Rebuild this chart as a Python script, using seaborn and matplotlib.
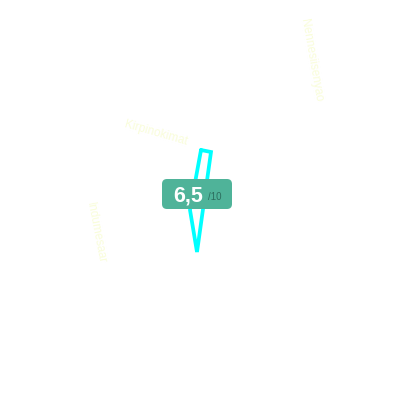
"""
plot.py
-------
Single-score radar shape with a score badge, on a blank white ground.
"""

import matplotlib

matplotlib.use("Agg")

import matplotlib.pyplot as plt
import pandas as pd
import seaborn as sns
from matplotlib.patches import FancyBboxPatch

# outline of the shape, closed (pixel scale)
shape_x = [201, 211, 197, 190, 201]
shape_y = [150, 152, 252, 210, 150]

axis_labels = ["Nennesiisenyao", "Kirpinokimat", "Indumesaar"]
label_x = [311, 156, 96]
label_y = [60, 133, 233]
label_rot = [-80, -16, -79]

score_text = "6,5"
score_max = "/10"

sns.set_theme(style="white")
plt.rcParams["font.family"] = ["Liberation Sans", "DejaVu Sans"]

fig, ax = plt.subplots(figsize=(4, 4), dpi=100)
ax.set_position([0, 0, 1, 1])
ax.set_xlim(0, 400)
ax.set_ylim(400, 0)
ax.axis("off")

shape = pd.DataFrame({"x": shape_x, "y": shape_y})
sns.lineplot(
    data=shape, x="x", y="y", sort=False, estimator=None,
    color="#00ffff", linewidth=2.7, solid_joinstyle="miter", ax=ax, legend=False,
)

for txt, x, y, rot in zip(axis_labels, label_x, label_y, label_rot):
    ax.text(x, y, txt, rotation=rot, rotation_mode="anchor", ha="center", va="center",
            fontsize=8.5, color="#f9fdda")

# score badge
ax.add_patch(FancyBboxPatch(
    (165, 182), 64, 24, boxstyle="round,pad=3,rounding_size=5",
    facecolor="#4fb399", edgecolor="none", zorder=3,
))
ax.text(188, 196, score_text, ha="center", va="center", fontsize=15.5, fontweight="bold",
        color="white", zorder=4)
ax.text(215, 197, score_max, ha="center", va="center", fontsize=7,
        color="#2c6e5e", zorder=4)

fig.savefig("out.png", dpi=100)
